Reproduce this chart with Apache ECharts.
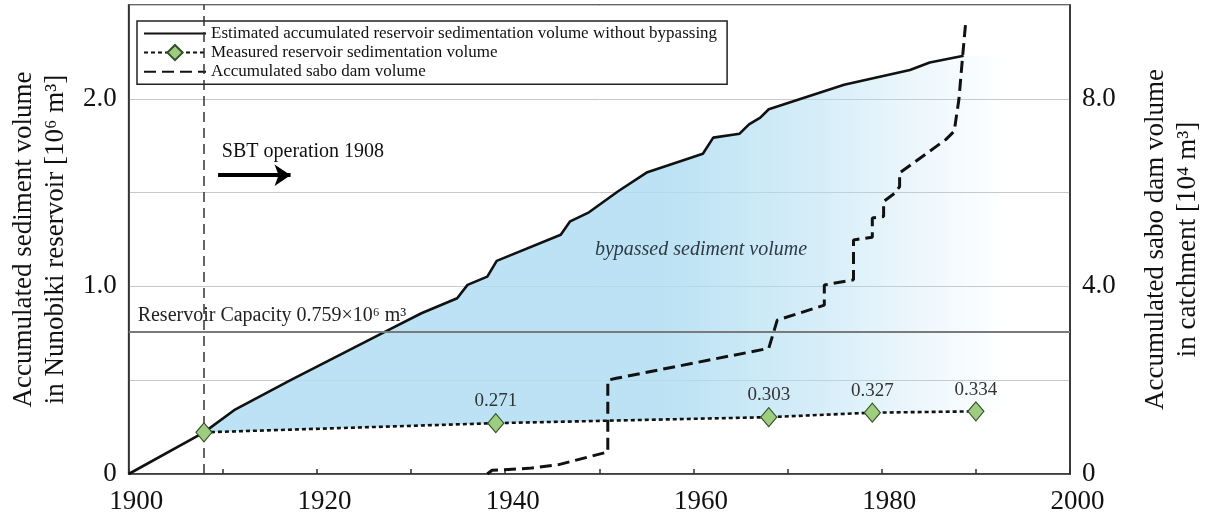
<!DOCTYPE html>
<html>
<head>
<meta charset="utf-8">
<script src="https://cdn.jsdelivr.net/npm/echarts@6/dist/echarts.min.js"></script>
<style>
html, body { margin: 0; padding: 0; background: #fff; }
#chart { width: 1212px; height: 520px; }
</style>
</head>
<body>
<div id="chart"></div>
<script>
// estimated accumulated sedimentation without bypassing [10^6 m3]
var estYears = [1900, 1908, 1911.2, 1917.2, 1926.9, 1931.1, 1934.9, 1936.0, 1938.1, 1939.1, 1945.9, 1946.9, 1948.9, 1952.0, 1955.1, 1961.0, 1962.1, 1964.9, 1965.9, 1967.1, 1968.0, 1976.0, 1983.0, 1985.1, 1988.7];
var estVals = [0, 0.222, 0.34, 0.5, 0.75, 0.857, 0.937, 1.008, 1.052, 1.136, 1.275, 1.347, 1.395, 1.507, 1.609, 1.707, 1.793, 1.814, 1.864, 1.9, 1.944, 2.075, 2.154, 2.193, 2.229];

// measured reservoir sedimentation [10^6 m3]
var measYears = [1908, 1939, 1968, 1979, 1990];
var measVals = [0.222, 0.271, 0.303, 0.327, 0.334];

// accumulated sabo dam volume [10^4 m3]
var saboYears = [1938.1, 1938.6, 1942.5, 1945.7, 1950.9, 1950.9, 1951.8, 1968.0, 1968.9, 1973.9, 1973.9, 1977.0, 1977.0, 1979.0, 1979.0, 1980.2, 1980.2, 1981.4, 1981.9, 1981.9, 1986.8, 1987.7, 1988.2, 1988.6, 1988.9];
var saboVals = [0, 0.08, 0.12, 0.2, 0.47, 2.0, 2.04, 2.68, 3.28, 3.6, 4.03, 4.14, 4.99, 5.05, 5.46, 5.49, 5.81, 5.99, 6.13, 6.42, 7.13, 7.31, 7.99, 8.92, 9.59];

var capacity = 0.759;
var sbtYear = 1908;
var fillEndYear = 1992.5;   // shaded band runs a little past the last estimate

var FONT = 'Liberation Serif';
var noSymbol = { color: 'rgba(0,0,0,0)', borderColor: 'rgba(0,0,0,0)', borderWidth: 0 };

function pairs(xs, ys) {
    var out = [];
    for (var i = 0; i < xs.length; i++) out.push([xs[i], ys[i]]);
    return out;
}

var chart = echarts.init(document.getElementById('chart'));

chart.setOption({
    animation: false,
    grid: {
        left: 122.5, right: 132.5, top: 5, bottom: 46,
        show: true, borderColor: '#333', borderWidth: 1.6, backgroundColor: 'transparent'
    },
    legend: {
        orient: 'vertical',
        left: 137, top: 21,
        padding: [4, 10, 4, 6],
        itemWidth: 62, itemHeight: 19, itemGap: 2,
        backgroundColor: '#fff',
        borderColor: '#222', borderWidth: 1.5, borderRadius: 0,
        textStyle: { fontFamily: FONT, fontSize: 17, color: '#111' },
        data: [
            { name: 'Estimated accumulated reservoir sedimentation volume without bypassing', itemStyle: noSymbol },
            { name: 'Measured reservoir sedimentation volume' },
            { name: 'Accumulated sabo dam volume', itemStyle: noSymbol }
        ]
    },
    xAxis: {
        type: 'value', min: 1900, max: 2000, interval: 10,
        axisLine: { lineStyle: { color: '#333', width: 1.6 } },
        axisTick: { inside: true, length: 5, lineStyle: { color: '#333', width: 1.5 } },
        splitLine: { show: false },
        axisLabel: {
            margin: 14, fontFamily: FONT, fontSize: 27, color: '#111', padding: [0, 0, 0, 15],
            formatter: function (v) { return v % 20 === 0 ? String(v) : ''; }
        }
    },
    yAxis: [{
        type: 'value', min: 0, max: 2.5, interval: 0.5,
        name: 'Accumulated sediment volume\nin Nunobiki reservoir [10⁶ m³]',
        nameLocation: 'middle', nameRotate: 90, nameGap: 56,
        nameTextStyle: { fontFamily: FONT, fontSize: 27, color: '#111', lineHeight: 32 },
        axisLine: { show: true, lineStyle: { color: '#333', width: 1.6 } },
        axisTick: { show: false },
        splitLine: { lineStyle: { color: '#c8c8c8', width: 1 } },
        axisLabel: {
            margin: 12, fontFamily: FONT, fontSize: 27, color: '#111',
            formatter: function (v) { return v === 0 ? '0' : (v % 1 === 0 ? v.toFixed(1) : ''); }
        }
    }, {
        type: 'value', min: 0, max: 10, interval: 2, position: 'right',
        name: 'Accumulated sabo dam volume\nin catchment [10⁴ m³]',
        nameLocation: 'middle', nameRotate: 90, nameGap: 70,
        nameTextStyle: { fontFamily: FONT, fontSize: 27, color: '#111', lineHeight: 32 },
        axisLine: { show: true, lineStyle: { color: '#333', width: 1.6 } },
        axisTick: { show: false },
        splitLine: { show: false },
        axisLabel: {
            margin: 12, fontFamily: FONT, fontSize: 27, color: '#111',
            formatter: function (v) { return v === 0 ? '0' : (v % 4 === 0 ? v.toFixed(1) : ''); }
        }
    }],
    series: [
        {
            // bypassed sediment volume: area between estimated and measured
            type: 'custom',
            name: 'bypassed',
            silent: true,
            z: 1,
            data: [[1950, 1]],
            encode: { x: 0, y: 1 },
            renderItem: function (params, api) {
                var pts = [];
                var n = estYears.length, m = measYears.length;
                for (var i = 1; i < n; i++) pts.push(api.coord([estYears[i], estVals[i]]));
                pts.push(api.coord([fillEndYear, estVals[n - 1]]));
                pts.push(api.coord([fillEndYear, measVals[m - 1]]));
                for (var j = m - 1; j >= 0; j--) pts.push(api.coord([measYears[j], measVals[j]]));
                var x0 = api.coord([1908, 0])[0];
                var x1 = api.coord([fillEndYear, 0])[0];
                return {
                    type: 'polygon',
                    shape: { points: pts },
                    style: {
                        fill: new echarts.graphic.LinearGradient(x0, 0, x1, 0, [
                            { offset: 0, color: 'rgba(176,221,242,0.85)' },
                            { offset: 0.58, color: 'rgba(176,221,242,0.85)' },
                            { offset: 0.78, color: 'rgba(176,221,242,0.5)' },
                            { offset: 0.93, color: 'rgba(176,221,242,0.16)' },
                            { offset: 1, color: 'rgba(176,221,242,0.03)' }
                        ], true)
                    }
                };
            }
        },
        {
            name: 'Estimated accumulated reservoir sedimentation volume without bypassing',
            type: 'line',
            z: 4,
            symbol: 'none',
            data: pairs(estYears, estVals),
            itemStyle: { color: '#111' },
            lineStyle: { color: '#111', width: 2.6 },
            markLine: {
                silent: true,
                symbol: 'none',
                data: [
                    {
                        yAxis: capacity,
                        lineStyle: { color: '#7a7a7a', width: 2, type: 'solid' },
                        label: {
                            show: true, position: 'insideStartTop', distance: [9, 6],
                            formatter: 'Reservoir Capacity 0.759×10⁶ m³',
                            fontFamily: FONT, fontSize: 20, color: '#222'
                        }
                    },
                    {
                        xAxis: sbtYear,
                        lineStyle: { color: '#333', width: 1.5, type: [10, 6] },
                        label: { show: false }
                    }
                ]
            }
        },
        {
            name: 'Measured reservoir sedimentation volume',
            type: 'line',
            z: 5,
            symbol: 'diamond',
            symbolSize: [16, 19],
            data: pairs(measYears, measVals),
            lineStyle: { color: '#111', width: 2.6, type: [4, 3] },
            itemStyle: { color: '#9fcd7f', borderColor: '#33502a', borderWidth: 1.2 },
            label: {
                show: true, position: 'top', distance: 2,
                fontFamily: FONT, fontSize: 19, color: '#333',
                formatter: function (p) { return p.dataIndex === 0 ? '' : p.value[1].toFixed(3); }
            }
        },
        {
            name: 'Accumulated sabo dam volume',
            type: 'line',
            yAxisIndex: 1,
            z: 4,
            symbol: 'none',
            data: pairs(saboYears, saboVals),
            itemStyle: { color: '#111' },
            lineStyle: { color: '#111', width: 3, type: [12, 6] },
            markLine: {
                silent: true,
                symbol: ['none', 'arrow'],
                symbolSize: 16,
                lineStyle: { color: '#000', width: 4, type: 'solid' },
                label: { show: false },
                data: [[{ coord: [1909.5, 6.37] }, { coord: [1917.2, 6.37] }]]
            }
        }
    ]
});

// text annotations placed through the axes
var sbtPos = chart.convertToPixel({ gridIndex: 0 }, [1909.9, 1.72]);
var bypPos = chart.convertToPixel({ gridIndex: 0 }, [1960.8, 1.195]);
chart.setOption({
    graphic: [
        {
            type: 'text', x: sbtPos[0], y: sbtPos[1], z: 10,
            style: { text: 'SBT operation 1908', font: '20px "Liberation Serif"', fill: '#111', verticalAlign: 'middle' }
        },
        {
            type: 'text', x: bypPos[0], y: bypPos[1], z: 10,
            style: {
                text: 'bypassed sediment volume', font: 'italic 20px "Liberation Serif"',
                fill: '#2d3a45', align: 'center', verticalAlign: 'middle'
            }
        }
    ]
});
</script>
</body>
</html>
